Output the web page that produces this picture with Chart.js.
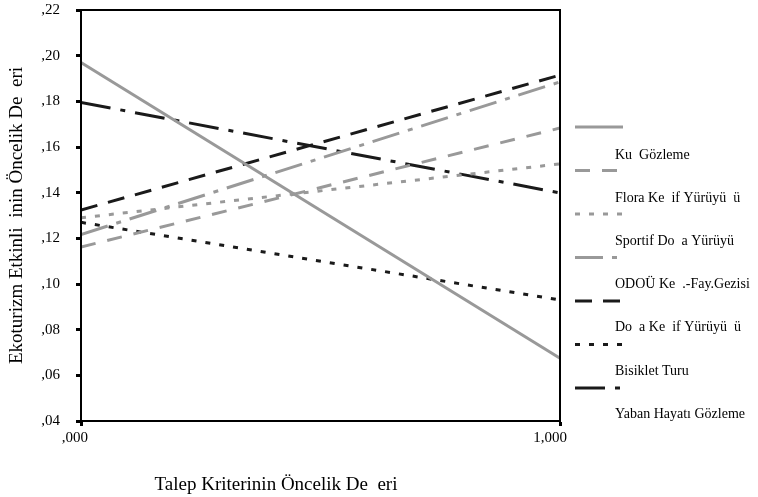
<!DOCTYPE html>
<html lang="tr">
<head>
    <meta charset="UTF-8">
    <title>Ekoturizm Etkinlik Öncelik</title>
    <script src="https://cdn.jsdelivr.net/npm/chart.js"></script>
    <style>
        body { margin: 0; background: #fff; }
        #wrap { width: 758px; height: 497px; }
    </style>
</head>
<body>
<div id="wrap"><canvas id="oncelikChart"></canvas></div>

<script>
    // veriler (resimden okunmus yaklasik degerler)
    const xValues = [0, 1];
    const seriesNames = [
        'Ku  Gözleme',
        'Flora Ke  if Yürüyü  ü',
        'Sportif Do  a Yürüyü',
        'ODOÜ Ke  .-Fay.Gezisi',
        'Do  a Ke  if Yürüyü  ü',
        'Bisiklet Turu',
        'Yaban Hayatı Gözleme'
    ];
    const kusGozleme = [0.197, 0.0675];
    const floraKesif = [0.1162, 0.1683];
    const sportifDoga = [0.129, 0.1526];
    const odouGezisi = [0.1217, 0.1885];
    const dogaKesif = [0.1324, 0.1915];
    const bisikletTuru = [0.127, 0.093];
    const yabanHayati = [0.1795, 0.1399];
    const yTicks = [0.04, 0.06, 0.08, 0.10, 0.12, 0.14, 0.16, 0.18, 0.20, 0.22];

    const GRAY = '#999999';
    const BLACK = '#1a1a1a';
    const FONT = '"Liberation Serif", "Times New Roman", serif';

    const styles = [
        { color: GRAY, dash: [] },
        { color: GRAY, dash: [15, 12] },
        { color: GRAY, dash: [5, 9] },
        { color: GRAY, dash: [28, 9, 5, 9] },
        { color: BLACK, dash: [17, 11] },
        { color: BLACK, dash: [5, 9] },
        { color: BLACK, dash: [30, 10, 5, 10] }
    ];
    const values = [kusGozleme, floraKesif, sportifDoga, odouGezisi, dogaKesif, bisikletTuru, yabanHayati];

    const datasets = seriesNames.map((name, i) => ({
        label: name,
        data: xValues.map((x, j) => ({ x: x, y: values[i][j] })),
        borderColor: styles[i].color,
        borderDash: styles[i].dash,
        borderWidth: 3,
        pointRadius: 0,
        fill: false,
        tension: 0
    }));

    // kutu, x basligi ve sag taraftaki legend
    const extras = {
        id: 'extras',
        afterDraw(chart) {
            const ctx = chart.ctx;
            const a = chart.chartArea;
            ctx.save();
            ctx.strokeStyle = '#000';
            ctx.lineWidth = 2;
            ctx.strokeRect(a.left, a.top, a.right - a.left, a.bottom - a.top);

            ctx.fillStyle = '#000';
            ctx.font = '19px ' + FONT;
            ctx.textAlign = 'center';
            ctx.textBaseline = 'middle';
            ctx.fillText('Talep Kriterinin Öncelik De  eri', 276, 485);

            ctx.font = '14px ' + FONT;
            ctx.textAlign = 'left';
            chart.data.datasets.forEach((ds, i) => {
                const sy = 127 + i * 43.5;
                ctx.strokeStyle = ds.borderColor;
                ctx.lineWidth = 3;
                ctx.setLineDash(ds.borderDash);
                ctx.beginPath();
                ctx.moveTo(575, sy);
                ctx.lineTo(623, sy);
                ctx.stroke();
                ctx.setLineDash([]);
                ctx.fillStyle = '#000';
                ctx.fillText(ds.label, 615, 155 + i * 43.2);
            });
            ctx.restore();
        }
    };

    const ctx = document.getElementById('oncelikChart').getContext('2d');
    const oncelikChart = new Chart(ctx, {
        type: 'line',
        data: { datasets: datasets },
        options: {
            responsive: true,
            maintainAspectRatio: false,
            animation: false,
            layout: { padding: { top: 10, right: 198, left: 0, bottom: 0 } },
            plugins: {
                legend: { display: false },
                tooltip: { enabled: false }
            },
            scales: {
                x: {
                    type: 'linear',
                    min: 0,
                    max: 1,
                    afterBuildTicks: (scale) => { scale.ticks = xValues.map(v => ({ value: v })); },
                    afterFit: (scale) => { scale.height = 76; scale.paddingLeft = 0; scale.paddingRight = 0; },
                    grid: { drawOnChartArea: false, tickLength: 5, tickWidth: 3, tickColor: '#000' },
                    border: { color: '#000', width: 2 },
                    ticks: {
                        color: '#000',
                        padding: 3,
                        maxRotation: 0,
                        align: 'end',
                        labelOffset: 7,
                        font: { family: FONT, size: 15 },
                        callback: (v) => v.toFixed(3).replace('0.', ',').replace('.', ',')
                    }
                },
                y: {
                    min: 0.04,
                    max: 0.22,
                    afterBuildTicks: (scale) => { scale.ticks = yTicks.map(v => ({ value: v })); },
                    afterFit: (scale) => { scale.width = 81; scale.paddingTop = 0; scale.paddingBottom = 0; },
                    grid: { drawOnChartArea: false, tickLength: 5, tickWidth: 3, tickColor: '#000' },
                    border: { color: '#000', width: 2 },
                    title: {
                        display: true,
                        text: 'Ekoturizm Etkinli  inin Öncelik De  eri',
                        color: '#000',
                        font: { family: FONT, size: 19 },
                        padding: { top: 6, bottom: 0 }
                    },
                    ticks: {
                        color: '#000',
                        padding: 16,
                        font: { family: FONT, size: 15 },
                        callback: (v) => v.toFixed(2).replace('0.', ',')
                    }
                }
            }
        },
        plugins: [extras]
    });
</script>
</body>
</html>
